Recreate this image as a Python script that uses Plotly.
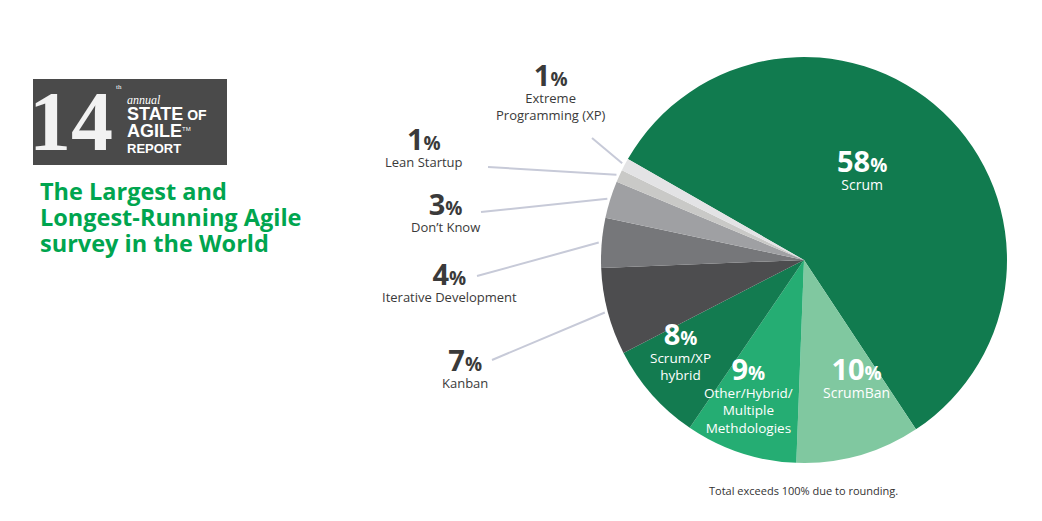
import math
import plotly.graph_objects as go

W, H = 1042, 521

# ---------------- data ----------------
categories = ["Scrum", "ScrumBan", "Other/Hybrid/Multiple Methdologies", "Scrum/XP hybrid",
              "Kanban", "Iterative Development", "Don’t Know", "Lean Startup",
              "Extreme Programming (XP)"]
values = [58, 10, 9, 8, 7, 4, 3, 1, 1]
label_lines = [["Scrum"], ["ScrumBan"], ["Other/Hybrid/", "Multiple", "Methdologies"],
               ["Scrum/XP", "hybrid"], ["Kanban"], ["Iterative Development"],
               ["Don’t Know"], ["Lean Startup"], ["Extreme", "Programming (XP)"]]
colors = ["#117B4F", "#80C8A0", "#25AD73", "#137B50", "#4D4D4F",
          "#76777A", "#9FA0A3", "#C9C9C7", "#E3E3E5"]
title_lines = ["The Largest and", "Longest-Running Agile", "survey in the World"]
footnote = "Total exceeds 100% due to rounding."

# ---------------- layout helpers ----------------
OFF = 8  # page body margin


def px(x):
    return (x - OFF) / W


def py(y):
    return 1 - (y - OFF) / H


CX, CY, R = 804, 260, 203
START = -60.2  # degrees clockwise from 12 o'clock

# label placement: (x centre, baseline of the number), font size of label text
inside = {0: (862, 171.5, 14), 1: (856, 380, 14), 2: (748, 380, 13.5), 3: (680, 345, 13.5)}
# outside: (x centre, number baseline, leader start x, leader start y)
outside = {4: (465, 371.5, 492, 360), 5: (449, 285, 477, 276), 6: (445, 215, 481, 212),
           7: (424, 150, 488, 167), 8: (550, 86.5, 592, 138)}

NUM = 29
PCT = 19

fig = go.Figure()
fig.add_trace(go.Pie(
    labels=categories, values=values, sort=False, direction="clockwise",
    rotation=START, textinfo="none", hoverinfo="label+value",
    marker=dict(colors=colors, line=dict(width=0)),
    domain=dict(x=[px(CX - R), px(CX + R)], y=[py(CY + R), py(CY - R)]),
))

annotations = []
shapes = []


def block(i, base):
    num = (f"<b><span style='font-size:{NUM}px'>{values[i]}</span>"
           f"<span style='font-size:{PCT}px'>%</span></b>")
    return num + "<br>" + "<br>".join(label_lines[i])


def centre_y(b1, n, base):
    top = b1 - 1.069 * NUM
    bottom = b1 + n * 1.3 * base + 0.293 * base
    return (top + bottom) / 2


total = sum(values)
cum = 0
mids = []
for v in values:
    a0 = START + cum / total * 360
    cum += v
    a1 = START + cum / total * 360
    mids.append(math.radians((a0 + a1) / 2))

for i, (x, b1, base) in inside.items():
    annotations.append(dict(x=px(x), y=py(centre_y(b1, len(label_lines[i]), base)),
                            xref="paper", yref="paper", text=block(i, base),
                            showarrow=False, xanchor="center", yanchor="middle",
                            align="center",
                            font=dict(family="Open Sans", size=base, color="white")))

for i, (x, b1, lx, ly) in outside.items():
    base = 13
    annotations.append(dict(x=px(x), y=py(centre_y(b1, len(label_lines[i]), base)),
                            xref="paper", yref="paper", text=block(i, base),
                            showarrow=False, xanchor="center", yanchor="middle",
                            align="center",
                            font=dict(family="Open Sans", size=base, color="#3A3A3A")))
    ex = CX + (R + 3) * math.sin(mids[i])
    ey = CY - (R + 3) * math.cos(mids[i])
    shapes.append(dict(type="line", xref="paper", yref="paper",
                       x0=px(lx), y0=py(ly), x1=px(ex), y1=py(ey),
                       line=dict(color="#C7CAD8", width=2)))

# logo box
shapes.append(dict(type="rect", xref="paper", yref="paper", x0=px(33), x1=px(227),
                   y0=py(165), y1=py(79), fillcolor="#4A4A4A", line=dict(width=0),
                   layer="below"))
annotations.append(dict(x=px(115), y=py(122), xref="paper", yref="paper", text="<b>14</b>",
                        showarrow=False, xanchor="right", yanchor="middle",
                        font=dict(family="Liberation Serif", size=84, color="#F2F2F2")))
annotations.append(dict(x=px(114), y=py(87), xref="paper", yref="paper", text="th",
                        showarrow=False, xanchor="left", yanchor="middle",
                        font=dict(family="Liberation Serif", size=7, color="white")))
logo_text = ("<i><span style='font-family:Liberation Serif;font-size:12px'>annual</span></i><br>"
             "<b><span style='font-size:18px'>STATE</span>"
             "<span style='font-size:14px'> OF</span></b><br>"
             "<b><span style='font-size:18px'>AGILE</span></b>"
             "<sup><span style='font-size:6px'>TM</span></sup><br>"
             "<b><span style='font-size:13px'>REPORT</span></b>")
annotations.append(dict(x=px(125), y=py(124.5), xref="paper", yref="paper", text=logo_text,
                        showarrow=False, xanchor="left", yanchor="middle", align="left",
                        font=dict(family="Liberation Sans", size=12.5, color="white")))

# title
for k, line in enumerate(title_lines):
    annotations.append(dict(x=px(38), y=py(190.5 + 26.3 * k), xref="paper", yref="paper",
                            text=f"<b>{line}</b>", showarrow=False, xanchor="left",
                            yanchor="middle",
                            font=dict(family="Open Sans", size=23.5, color="#00A54F")))

# footnote
annotations.append(dict(x=px(803), y=py(490), xref="paper", yref="paper", text=footnote,
                        showarrow=False, xanchor="center", yanchor="middle",
                        font=dict(family="Open Sans", size=11, color="#333333")))

fig.update_layout(width=W, height=H, margin=dict(l=0, r=0, t=0, b=0),
                  paper_bgcolor="white", plot_bgcolor="white", showlegend=False,
                  annotations=annotations, shapes=shapes)

fig.write_html("out.html")
